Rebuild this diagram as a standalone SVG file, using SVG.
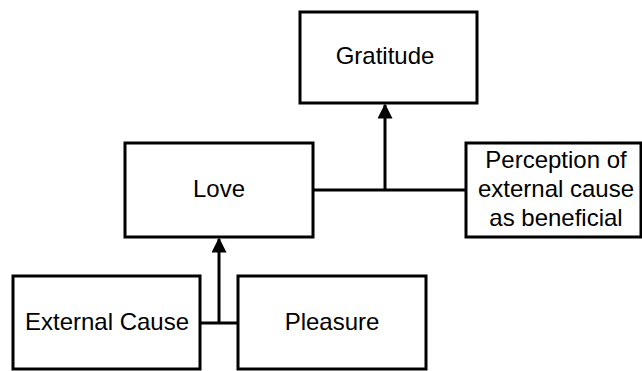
<svg xmlns="http://www.w3.org/2000/svg" width="642" height="371" viewBox="0 0 642 371">
<style>
.box{fill:#fff;stroke:#000;stroke-width:3}
.lbl{font-family:"Liberation Sans",Arial,sans-serif;font-size:24px;fill:#000;text-anchor:middle}
.conn{fill:none;stroke:#000;stroke-width:3}
</style>
<defs>
<marker id="arr" viewBox="0 0 10 10" refX="9" refY="5" markerWidth="5" markerHeight="5" markerUnits="strokeWidth" orient="auto">
<path d="M0,0 L10,5 L0,10 z" fill="#000"/>
</marker>
</defs>
<rect width="642" height="371" fill="#fff"/>
<g id="connectors">
<path class="conn" d="M313,190 H466"/>
<path class="conn" d="M385,190 V105" marker-end="url(#arr)"/>
<path class="conn" d="M200,323 H238"/>
<path class="conn" d="M219,323 V239" marker-end="url(#arr)"/>
</g>
<g id="gratitude">
<rect class="box" x="300" y="12" width="177" height="91"/>
<text class="lbl" x="385" y="64">Gratitude</text>
</g>
<g id="love">
<rect class="box" x="125" y="143" width="188" height="94"/>
<text class="lbl" x="219" y="197">Love</text>
</g>
<g id="perception">
<rect class="box" x="466" y="143" width="175" height="94"/>
<text class="lbl" x="556" y="168">Perception of</text>
<text class="lbl" x="556" y="197">external cause</text>
<text class="lbl" x="556" y="226">as beneficial</text>
</g>
<g id="external-cause">
<rect class="box" x="13" y="276" width="187" height="93"/>
<text class="lbl" x="107" y="330">External Cause</text>
</g>
<g id="pleasure">
<rect class="box" x="238" y="276" width="188" height="93"/>
<text class="lbl" x="332" y="330">Pleasure</text>
</g>
</svg>
